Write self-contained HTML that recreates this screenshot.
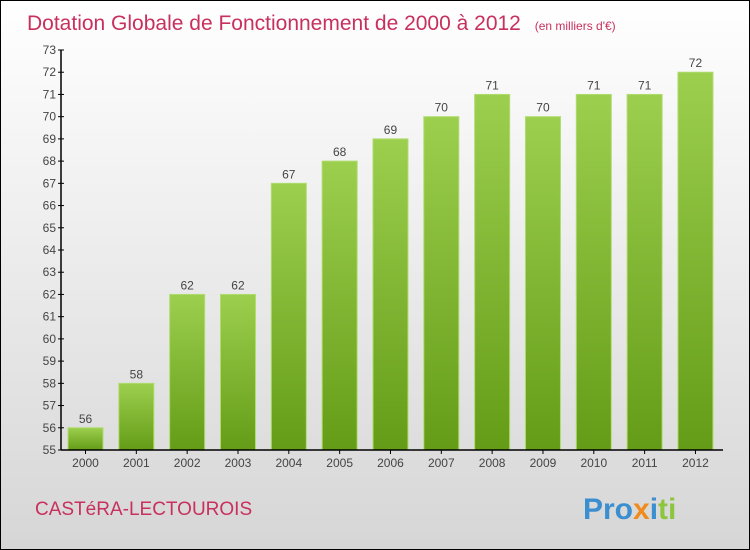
<!DOCTYPE html>
<html><head><meta charset="utf-8"><style>
body{margin:0}
#wrap{width:748px;height:548px;border:1px solid #000;background:linear-gradient(#fff,#d6d6d6);position:relative;font-family:"Liberation Sans",sans-serif;overflow:hidden}
</style></head><body>
<div id="wrap">
<svg width="748" height="548" id="svg">
<defs><linearGradient id="g" x1="0" y1="0" x2="0" y2="1"><stop offset="0" stop-color="#9ccf4e"/><stop offset="1" stop-color="#649c17"/></linearGradient></defs>
<text x="26" y="29" font-size="21" fill="#c8305e">Dotation Globale de Fonctionnement de 2000 à 2012 <tspan font-size="12" dx="8">(en milliers d'€)</tspan></text>
<text x="34" y="514" font-size="19" fill="#c8305e">CASTéRA-LECTOUROIS</text>
<text x="582" y="518" font-size="30" font-weight="bold"><tspan fill="#3b8fd0">Pro</tspan><tspan fill="#f08a1c">x</tspan><tspan fill="#3b8fd0">i</tspan><tspan fill="#8cc63f">ti</tspan></text>
<g id="plot"></g>
</svg></div>
<script>
const years=["2000","2001","2002","2003","2004","2005","2006","2007","2008","2009","2010","2011","2012"];
const values=[56,58,62,62,67,68,69,70,71,70,71,71,72];
const yTicks=[55,56,57,58,59,60,61,62,63,64,65,66,67,68,69,70,71,72,73];
const NS="http://www.w3.org/2000/svg",g=document.getElementById('plot');
const y=v=>449-(v-55)*(400/18), x=i=>84.5+i*50.83;
function mk(t,a){const e=document.createElementNS(NS,t);for(const k in a)e.setAttribute(k,a[k]);g.appendChild(e);return e;}
yTicks.forEach(t=>{
 const l=mk('line',{x1:57,x2:63,y1:y(t),y2:y(t),stroke:'#000'});
 
 
 const tx=mk('text',{x:55,y:y(t)+4,'text-anchor':'end','font-size':12,fill:'#444'});tx.textContent=t;
 
 
});
values.forEach((v,i)=>{
 const r=mk('rect',{x:x(i)-17.5,y:y(v),width:35,height:y(55)-y(v),fill:'url(#g)',stroke:'#b0dc70','stroke-width':1});
 
 
 const t=mk('text',{x:x(i),y:y(v)-5,'text-anchor':'middle','font-size':12,fill:'#444'});t.textContent=v;
 
 
 const xl=mk('text',{x:x(i),y:466,'text-anchor':'middle','font-size':12,fill:'#444'});xl.textContent=years[i];
 
 
 const tk=mk('line',{x1:x(i),x2:x(i),y1:449,y2:453,stroke:'#000'});
 
 
});
const ya=mk('line',{x1:60,x2:60,y1:y(73),y2:449,stroke:'#000','stroke-width':1.5});


const xa=mk('line',{x1:60,x2:722,y1:449,y2:449,stroke:'#000','stroke-width':1.5});


</script>
</body></html>
